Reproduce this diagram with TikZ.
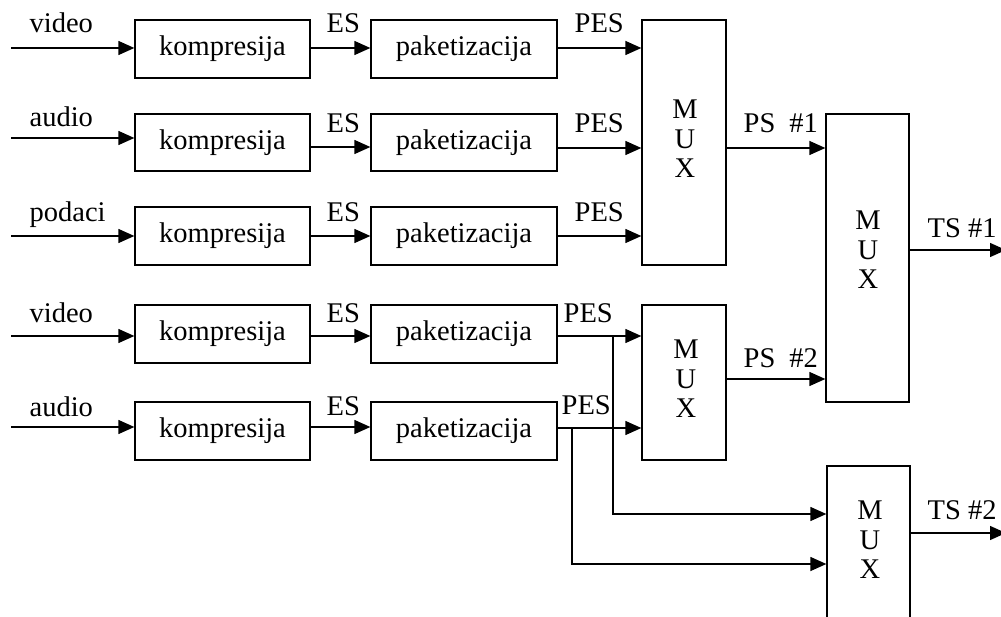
\documentclass[tikz,border=0pt]{standalone}
\usepackage{fontspec}
\setmainfont{Liberation Serif}
\usetikzlibrary{arrows.meta}
\begin{document}
\begin{tikzpicture}[x=1pt,y=-1pt,line width=1.3pt,
  every node/.style={font=\fontsize{28.5}{29.5}\selectfont},
  kbox/.style={draw,inner sep=0pt,minimum width=175pt,minimum height=58pt},
  pbox/.style={draw,inner sep=0pt,minimum width=186pt,minimum height=58pt},
  muxbox/.style={draw,inner sep=0pt,minimum width=84pt},
  muxt/.style={inner sep=0pt,align=center},
  lbl/.style={inner sep=0pt,anchor=base west},
  arr/.style={-{Triangle[length=16pt,width=14pt]}},
  wire/.style={-}]
\clip (0,0) rectangle (1001,617);
\useasboundingbox (0,0) rectangle (1001,617);

% compression boxes
\node[kbox] (k1) at (222.5,49) {kompresija};
\node[kbox,minimum height=57pt] (k2) at (222.5,142.5) {kompresija};
\node[kbox] (k3) at (222.5,236) {kompresija};
\node[kbox] (k4) at (222.5,334) {kompresija};
\node[kbox] (k5) at (222.5,431) {kompresija};
% packetization boxes
\node[pbox] (p1) at (464,49) {paketizacija};
\node[pbox,minimum height=57pt] (p2) at (464,142.5) {paketizacija};
\node[pbox] (p3) at (464,236) {paketizacija};
\node[pbox] (p4) at (464,334) {paketizacija};
\node[pbox] (p5) at (464,431) {paketizacija};
% multiplexers
\node[muxbox,minimum height=245pt] (m1) at (684,142.5) {};
\node[muxbox,minimum width=83pt,minimum height=288pt] (m2) at (867.5,258) {};
\node[muxbox,minimum height=155pt] (m3) at (684,382.5) {};
\node[muxbox,minimum width=83pt,minimum height=194pt] (m4) at (868.5,563) {};
\node[muxt] (m1t) at (685,139) {M\\U\\X};
\node[muxt] (m2t) at (868,250) {M\\U\\X};
\node[muxt] (m3t) at (686,379) {M\\U\\X};
\node[muxt] (m4t) at (870,540) {M\\U\\X};

% input coordinates
\coordinate (i1) at (11,48);
\coordinate (i2) at (11,138);
\coordinate (i3) at (11,236);
\coordinate (i4) at (11,336);
\coordinate (i5) at (11,427);
\foreach \r in {1,...,5} {\draw[arr] (i\r) -- (i\r -| k\r.west);}

% ES connectors
\coordinate (e1) at ([yshift=1pt]k1.east);
\coordinate (e2) at ([yshift=-4.5pt]k2.east);
\coordinate (e3) at (k3.east);
\coordinate (e4) at ([yshift=-2pt]k4.east);
\coordinate (e5) at ([yshift=4pt]k5.east);
\foreach \r in {1,...,5} {\draw[arr] (e\r) -- (e\r -| p\r.west);}

% PES connectors
\coordinate (o1) at ([yshift=1pt]p1.east);
\coordinate (o2) at ([yshift=-5.5pt]p2.east);
\coordinate (o3) at (p3.east);
\coordinate (o4) at ([yshift=-2pt]p4.east);
\coordinate (o5) at ([yshift=3pt]p5.east);
\draw[arr] (o1) -- (o1 -| m1.west);
\draw[arr] (o2) -- (o2 -| m1.west);
\draw[arr] (o3) -- (o3 -| m1.west);
\draw[arr] (o4) -- (o4 -| m3.west);
\draw[arr] (o5) -- (o5 -| m3.west);

% branches to the lower MUX
\coordinate (b4) at (613,514);
\coordinate (b5) at (572,564);
\draw[arr] (o4 -| b4) -- (b4) -- (b4 -| m4.west);
\draw[arr] (o5 -| b5) -- (b5) -- (b5 -| m4.west);

% MUX outputs
\coordinate (ps2) at (760,379);
\coordinate (t1) at (1006,250);
\coordinate (t2) at (1006,533);
\draw[arr] (m1.east |- o2) -- (m2.west |- o2);
\draw[arr] (m3.east |- ps2) -- (m2.west |- ps2);
\draw[arr] (m2.east |- t1) -- (t1);
\draw[arr] (m4.east |- t2) -- (t2);

% labels
\node[lbl] (l1) at (29,33) {video};
\node[lbl] (l2) at (29,127) {audio};
\node[lbl] (l3) at (29,222) {podaci};
\node[lbl] (l4) at (29,323) {video};
\node[lbl] (l5) at (29,416) {audio};
\node[lbl] (es1) at (326,33) {ES};
\node[lbl] (es2) at (326,133) {ES};
\node[lbl] (es3) at (326,222) {ES};
\node[lbl] (es4) at (326,323) {ES};
\node[lbl] (es5) at (326,415) {ES};
\node[lbl] (pes1) at (574,33) {PES};
\node[lbl] (pes2) at (574,133) {PES};
\node[lbl] (pes3) at (574,222) {PES};
\node[lbl] (pes4) at (563,323) {PES};
\node[lbl] (pes5) at (561,414) {PES};
\node[lbl] (ps1l) at (743,133) {PS\hspace{14pt}\#1};
\node[lbl] (ps2l) at (743,367) {PS\hspace{14pt}\#2};
\node[lbl] (ts1l) at (927,238) {TS \#1};
\node[lbl] (ts2l) at (927,519) {TS \#2};
\end{tikzpicture}
\end{document}
